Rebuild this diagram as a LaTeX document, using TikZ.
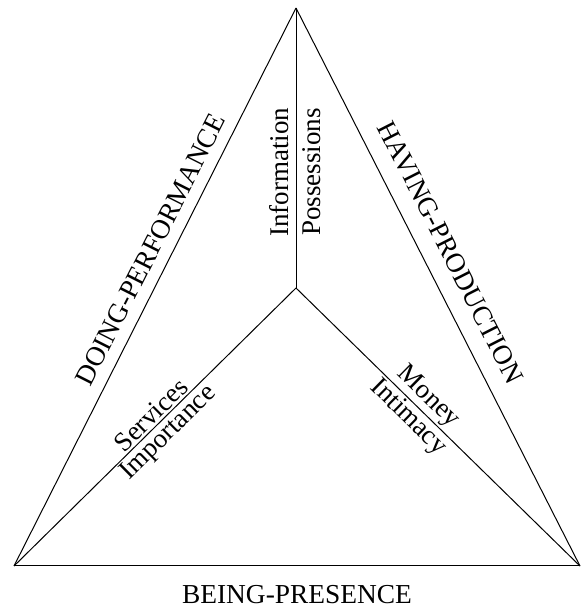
\documentclass[tikz,border=0pt]{standalone}
\usepackage{fontspec}
\setmainfont{Liberation Serif}
\usetikzlibrary{positioning}

\begin{document}
\begin{tikzpicture}[
    x=0.5pt, y=0.5pt,
    edge/.style={line width=0.5pt, black},
    lbl/.style={font=\fontsize{13.5}{15}\selectfont, inner sep=1pt, sloped},
    sidelbl/.style={font=\fontsize{13.7}{16}\selectfont, inner sep=1.5pt, sloped}
]
\useasboundingbox (0,0) rectangle (582,607);
\coordinate (top) at (296,599);
\coordinate (left) at (14,41);
\coordinate (right) at (580,41);
\coordinate (mid) at (296,319);

% outer triangle
\draw[edge] (left) -- node[sidelbl, above, inner sep=5.5pt, pos=0.55] (doing) {DOING-PERFORMANCE} (top);
\draw[edge] (top) -- node[sidelbl, above, inner sep=8.5pt, pos=0.46] (having) {HAVING-PRODUCTION} (right);
\draw[edge] (left) -- node[sidelbl, below, yshift=-8pt] (being) {BEING-PRESENCE} (right);

% spokes
\draw[edge] (mid) -- node[lbl, above, inner sep=3.3pt, pos=0.414] (info) {Information}
    node[lbl, below, inner sep=3.3pt, pos=0.414] (poss) {Possessions} (top);
\draw[edge] (left) -- node[lbl, above, pos=0.514] (serv) {Services}
    node[lbl, below, pos=0.514] (impo) {Importance} (mid);
\draw[edge] (mid) -- node[lbl, above, pos=0.43] (money) {Money}
    node[lbl, below, pos=0.43] (inti) {Intimacy} (right);
\end{tikzpicture}
\end{document}
